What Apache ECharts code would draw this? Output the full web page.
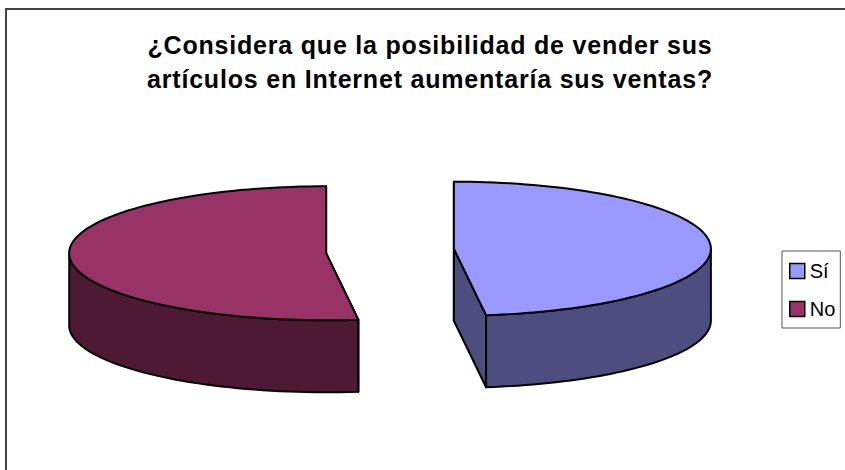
<!DOCTYPE html>
<html><head><meta charset="utf-8">
<style>html,body{margin:0;padding:0;background:#fff}#c{width:845px;height:470px}
svg text[style*="bold"]{letter-spacing:0.8px}</style>
<script src="https://cdn.jsdelivr.net/npm/echarts@6/dist/echarts.min.js"></script></head>
<body><div id="c"></div>
<script>
const titleLines = ['¿Considera que la posibilidad de vender sus','artículos en Internet aumentaría sus ventas?'];
const sliceNames = ['Sí','No'];
const sliceValues = [48,52];
const topColors = ['#9999FF','#993366'];
const sideColors = ['#4D4D80','#4D1933'];

const pie3d = {cx:390, cy:251, rx:257, ry:67, depth:72, explodeX:64, explodeY:36};
const total = sliceValues.reduce((a,b)=>a+b,0);
const pt = (cx,cy,a,dy)=>[cx+pie3d.rx*Math.sin(a), cy-pie3d.ry*Math.cos(a)+(dy||0)];

function slice(idx){
  const before = sliceValues.slice(0,idx).reduce((a,b)=>a+b,0);
  return {start:before/total*2*Math.PI, end:(before+sliceValues[idx])/total*2*Math.PI};
}
function renderSlice(idx){
  return function(params, api){
    const {start,end} = slice(idx);
    const mid=(start+end)/2;
    const cx = pie3d.cx + pie3d.explodeX*Math.sin(mid);
    const cy = pie3d.cy - pie3d.explodeY*Math.cos(mid);
    const arc=[], N=96;
    for(let i=0;i<=N;i++) arc.push(start+(end-start)*i/N);
    const top=[[cx,cy]].concat(arc.map(a=>pt(cx,cy,a)));
    const style=c=>({fill:c,stroke:'#000',lineWidth:2,lineJoin:'round'});
    const children=[];
    const d=pie3d.depth;
    [start,end].forEach(a=>{
      const p=pt(cx,cy,a);
      children.push({type:'polygon',shape:{points:[[cx,cy],p,[p[0],p[1]+d],[cx,cy+d]]},style:style(sideColors[idx])});
    });
    const vis=arc.filter(a=>Math.cos(a)<=0.001);
    const ring=vis.map(a=>pt(cx,cy,a)).concat(vis.slice().reverse().map(a=>pt(cx,cy,a,d)));
    children.push({type:'polygon',shape:{points:ring},style:style(sideColors[idx])});
    children.push({type:'polygon',shape:{points:top},style:style(topColors[idx])});
    return {type:'group',children};
  };
}
const series = sliceNames.map((n,i)=>({
  type:'custom', name:n, coordinateSystem:'none',
  data:[sliceValues[i]], renderItem:renderSlice(i),
  itemStyle:{color:topColors[i]}, silent:true, animation:false
}));
const chart=echarts.init(document.getElementById('c'),null,{renderer:'svg'});
chart.setOption({
  animation:false, backgroundColor:'#fff',
  title:{text:titleLines.join('\n'),left:425,top:23,textAlign:'center',
    textStyle:{fontFamily:'"Liberation Sans",Arial',fontWeight:'bold',fontSize:25,lineHeight:34,color:'#000'}},
  legend:{orient:'vertical',left:782,top:251,padding:[10,5,9,7],itemGap:18,itemWidth:15,itemHeight:15,
    icon:'rect',borderColor:'#555',borderWidth:1,backgroundColor:'#fff',
    data:sliceNames,selectedMode:false,
    itemStyle:{borderColor:'#000',borderWidth:1.5},
    textStyle:{fontFamily:'"Liberation Sans",Arial',fontSize:20,color:'#000'}},
  graphic:[{type:'polyline',silent:true,shape:{points:[[6,470],[6,9],[845,9]]},style:{stroke:'#444',lineWidth:2,fill:null}}],
  series
});
</script></body></html>
